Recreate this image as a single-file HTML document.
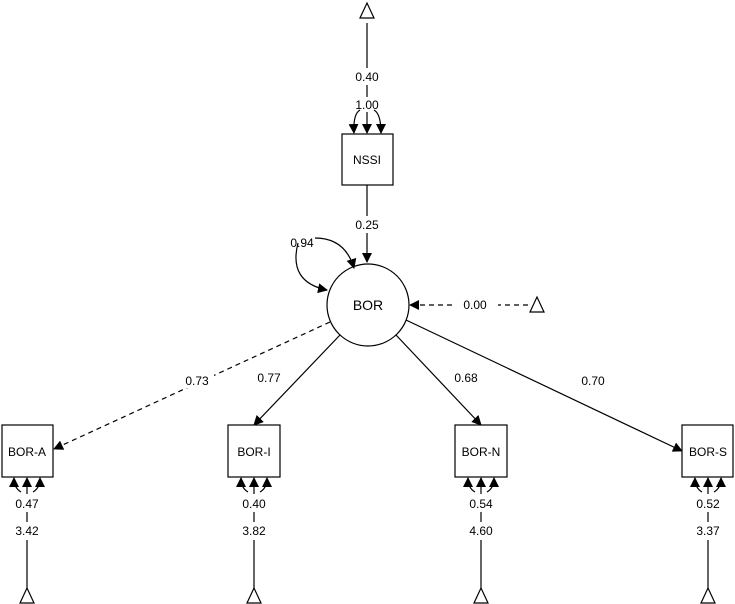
<!DOCTYPE html><html><head><style>body{margin:0;background:#fff}svg{display:block}text{font-family:"Liberation Sans",Arial,sans-serif;font-size:12px;fill:#000}</style></head><body>
<svg width="735" height="604" viewBox="0 0 735 604" xmlns="http://www.w3.org/2000/svg">
<defs><marker id="a" markerWidth="10" markerHeight="10" refX="9" refY="5" orient="auto" markerUnits="userSpaceOnUse"><path d="M0,0 L10,5 L0,10 z" fill="#000"/></marker></defs>
<g stroke="#000" fill="none" stroke-width="1.2">
<!-- top -->
<path d="M360,18 L367,3 L374,18 z" fill="#fff"/>
<line x1="367" y1="23" x2="367" y2="68"/><line x1="367" y1="85" x2="367" y2="97"/>
<line x1="367" y1="112" x2="367" y2="133" marker-end="url(#a)"/>
<path d="M360,110 Q353,114 354,133" marker-end="url(#a)"/>
<path d="M374,110 Q381,114 381,133" marker-end="url(#a)"/>
<rect x="342" y="134" width="51" height="51" fill="#fff"/>
<line x1="367" y1="185" x2="367" y2="216"/><line x1="367" y1="233" x2="367" y2="262" marker-end="url(#a)"/>
<circle cx="368" cy="305" r="41" fill="#fff"/>
<path d="M315,238 Q345,238 354,268" marker-end="url(#a)"/>
<path d="M298,243 Q288,282 327,290" marker-end="url(#a)"/>
<path d="M530,305 L537,297 L544,312 L530,312 z" fill="none" stroke="none"/>
<path d="M530,312 L537,297 L544,312 z" fill="#fff"/>
<line x1="528" y1="305" x2="498" y2="305" stroke-dasharray="5,4"/>
<line x1="452" y1="305" x2="410" y2="305" stroke-dasharray="5,4" marker-end="url(#a)"/>
<!-- loadings -->
<line x1="330" y1="322" x2="54" y2="449" stroke-dasharray="5,4" marker-end="url(#a)"/>
<line x1="340" y1="335" x2="254" y2="425" marker-end="url(#a)"/>
<line x1="396" y1="335" x2="481" y2="425" marker-end="url(#a)"/>
<line x1="406" y1="320" x2="682" y2="451" marker-end="url(#a)"/>
<rect x="2" y="425" width="51" height="52" fill="#fff"/>
<rect x="228" y="425" width="52" height="52" fill="#fff"/>
<rect x="455" y="425" width="52" height="52" fill="#fff"/>
<rect x="682" y="425" width="51" height="52" fill="#fff"/>
</g>
<g fill="#fff"><rect x="180" y="373" width="34" height="15"/><rect x="255" y="370" width="30" height="15"/><rect x="452" y="370" width="30" height="15"/><rect x="577" y="373" width="32" height="15"/></g>
<g stroke="#000" fill="none" stroke-width="1.2" id="b">
</g>
<g stroke="#000" fill="none" stroke-width="1.2">
<g transform="translate(27,0)">
<line x1="0" y1="590" x2="0" y2="540"/><line x1="0" y1="522" x2="0" y2="512"/><line x1="0" y1="494" x2="0" y2="478" marker-end="url(#a)"/>
<path d="M-6,492 Q-13,488 -13,478" marker-end="url(#a)"/><path d="M6,492 Q13,488 13,478" marker-end="url(#a)"/>
<path d="M-7,603 L0,588 L7,603 z" fill="#fff"/></g>
<g transform="translate(254,0)">
<line x1="0" y1="590" x2="0" y2="540"/><line x1="0" y1="522" x2="0" y2="512"/><line x1="0" y1="494" x2="0" y2="478" marker-end="url(#a)"/>
<path d="M-6,492 Q-13,488 -13,478" marker-end="url(#a)"/><path d="M6,492 Q13,488 13,478" marker-end="url(#a)"/>
<path d="M-7,603 L0,588 L7,603 z" fill="#fff"/></g>
<g transform="translate(481,0)">
<line x1="0" y1="590" x2="0" y2="540"/><line x1="0" y1="522" x2="0" y2="512"/><line x1="0" y1="494" x2="0" y2="478" marker-end="url(#a)"/>
<path d="M-6,492 Q-13,488 -13,478" marker-end="url(#a)"/><path d="M6,492 Q13,488 13,478" marker-end="url(#a)"/>
<path d="M-7,603 L0,588 L7,603 z" fill="#fff"/></g>
<g transform="translate(708,0)">
<line x1="0" y1="590" x2="0" y2="540"/><line x1="0" y1="522" x2="0" y2="512"/><line x1="0" y1="494" x2="0" y2="478" marker-end="url(#a)"/>
<path d="M-6,492 Q-13,488 -13,478" marker-end="url(#a)"/><path d="M6,492 Q13,488 13,478" marker-end="url(#a)"/>
<path d="M-7,603 L0,588 L7,603 z" fill="#fff"/></g>
</g>
<g text-anchor="middle">
<text x="367" y="81">0.40</text><text x="367" y="109">1.00</text>
<text x="367" y="164">NSSI</text><text x="367" y="229">0.25</text>
<text x="302" y="247">0.94</text>
<text x="368" y="310" style="font-size:14px">BOR</text>
<text x="475" y="309">0.00</text>
<text x="197" y="385">0.73</text><text x="269" y="382">0.77</text><text x="466" y="382">0.68</text><text x="593" y="385">0.70</text>
<text x="27" y="456">BOR-A</text><text x="254" y="456">BOR-I</text><text x="481" y="456">BOR-N</text><text x="708" y="456">BOR-S</text>
<text x="27" y="508">0.47</text><text x="27" y="535">3.42</text>
<text x="254" y="508">0.40</text><text x="254" y="535">3.82</text>
<text x="481" y="508">0.54</text><text x="481" y="535">4.60</text>
<text x="708" y="508">0.52</text><text x="708" y="535">3.37</text>
</g>
</svg></body></html>
